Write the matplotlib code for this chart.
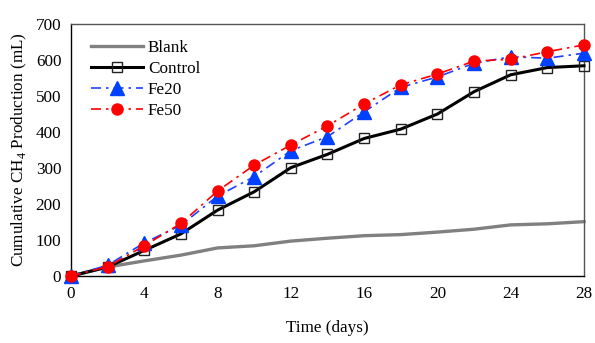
import matplotlib
matplotlib.use("Agg")
import matplotlib.pyplot as plt

# data
days = [0, 2, 4, 6, 8, 10, 12, 14, 16, 18, 20, 22, 24, 26, 28]
blank = [0, 25, 42, 58, 78, 84, 97, 105, 112, 115, 122, 130, 142, 145, 151]
control = [0, 25, 71, 117, 183, 234, 301, 338, 382, 408, 450, 512, 559, 579, 584]
fe20 = [0, 30, 92, 141, 222, 276, 348, 387, 456, 524, 553, 591, 609, 605, 619]
fe50 = [0, 26, 84, 146, 236, 308, 364, 417, 478, 531, 561, 597, 602, 623, 642]

xticks = [0, 4, 8, 12, 16, 20, 24, 28]
yticks = [0, 100, 200, 300, 400, 500, 600, 700]

plt.rcParams['font.family'] = ['Liberation Serif', 'DejaVu Serif']
plt.rcParams['mathtext.fontset'] = 'custom'
plt.rcParams['mathtext.rm'] = 'Liberation Serif'

fs = 12.3
fig = plt.figure(figsize=(5.95, 3.43), dpi=100)
ax = fig.add_axes([0.1193, 0.1953, 0.8622, 0.7347])

ax.plot(days, blank, color='#808080', lw=2.4, label='Blank', zorder=2)
ax.plot(days, control, color='black', lw=2.2, marker='s', ms=6.5, mfc='none',
        mec='#222222', mew=1.0, label='Control', zorder=3)
ax.plot(days, fe20, color='#1f3fff', lw=1.2, ls=(0, (6, 3, 1.5, 3)), marker='^',
        ms=10, mfc='#0040ff', mec='#0040ff', label='Fe20', zorder=4)
ax.plot(days, fe50, color='#ff0000', lw=1.2, ls=(0, (6, 3, 1.5, 3)), marker='o',
        ms=8, mfc='#ff0000', mec='#ff0000', label='Fe50', zorder=5)

ax.set_xlim(0, 28)
ax.set_ylim(0, 700)
ax.set_xticks(xticks)
ax.set_yticks(yticks)
ax.tick_params(length=0, labelsize=fs, pad=7)
for s in ['left', 'bottom']:
    ax.spines[s].set_color('black')
    ax.spines[s].set_linewidth(1.0)
for s in ['top', 'right']:
    ax.spines[s].set_color('#555555')
    ax.spines[s].set_linewidth(1.0)
for l in ax.get_lines():
    l.set_clip_on(False)

ax.set_xlabel('Time (days)', fontsize=fs, labelpad=13)
ax.set_ylabel(r'Cumulative CH$_4$ Production (mL)', fontsize=fs, labelpad=5)

ax.legend(loc='upper left', bbox_to_anchor=(0.01, 0.998), frameon=False, fontsize=fs,
          handlelength=3.0, handletextpad=0.3, labelspacing=0.3, borderaxespad=0.5)

fig.savefig('out.png', dpi=100)
